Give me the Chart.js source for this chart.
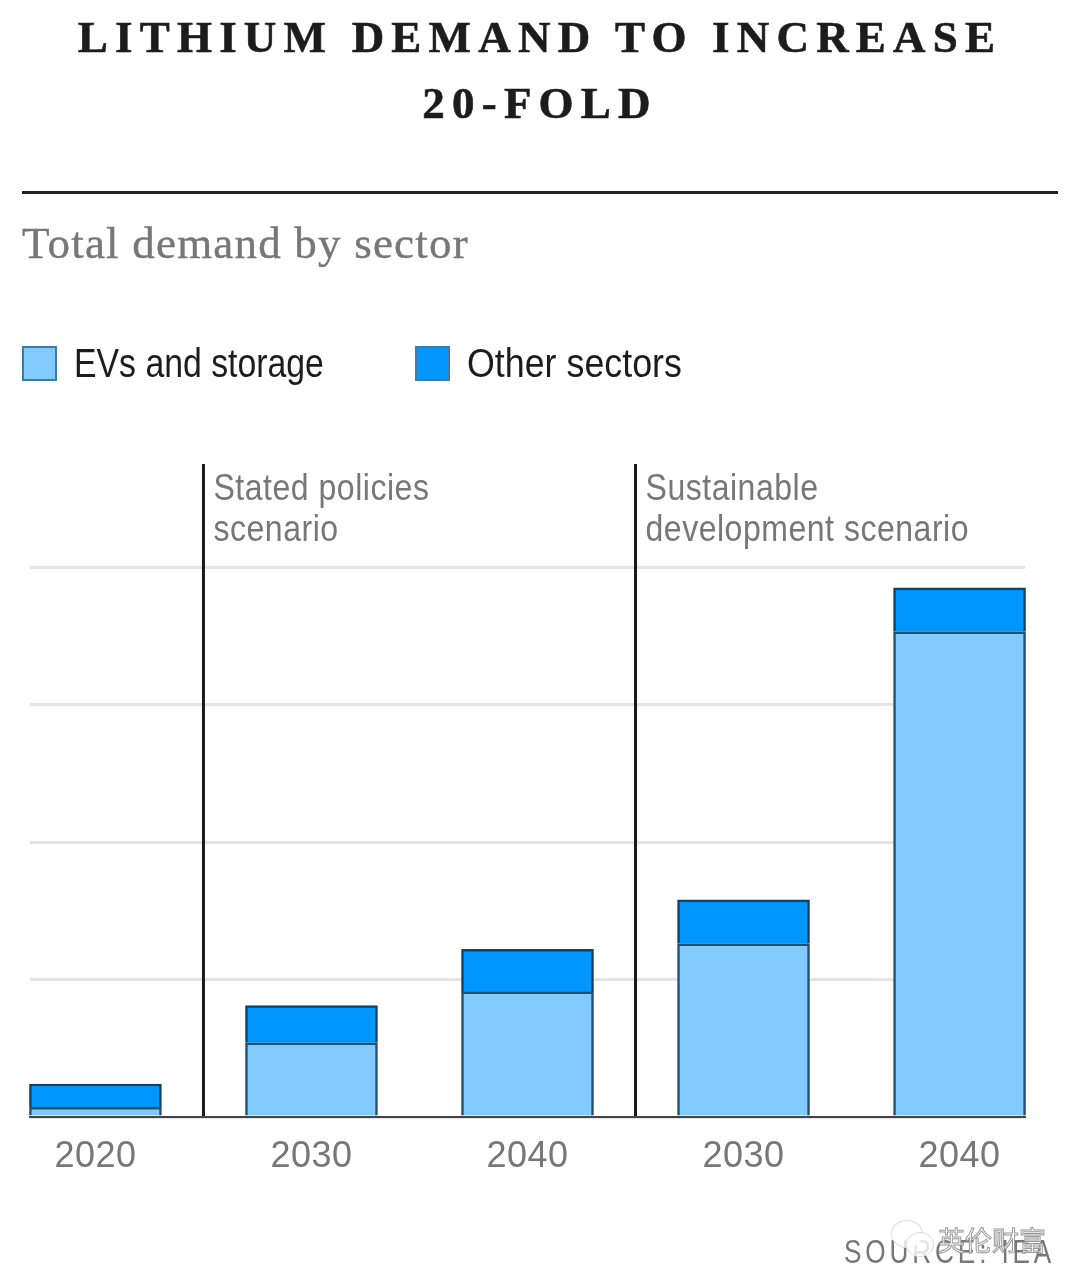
<!DOCTYPE html>
<html>
<head>
<meta charset="utf-8">
<script src="https://cdn.jsdelivr.net/npm/chart.js@4"></script>
<style>
  html, body { margin: 0; padding: 0; background: #fff; }
  #page { position: relative; width: 1080px; height: 1286px; overflow: hidden; }
  #page > * { position: absolute; }
  canvas { left: 0; top: 0; }
  .title { left: 0; width: 1080px; text-align: center; font: bold 45px "Liberation Serif", serif; letter-spacing: 7.2px; color: #1c1c1c; -webkit-text-stroke: 0.6px #1c1c1c; white-space: nowrap; }
  .rule { left: 22px; top: 191px; width: 1036px; height: 3px; background: #222; }
  .sub { left: 22px; top: 217px; font: 45px "Liberation Serif", serif; letter-spacing: 1.2px; color: #777; -webkit-text-stroke: 0.4px #777; white-space: nowrap; }
  .swatch { top: 346px; width: 31px; height: 31px; border: 2px solid #3f7ba6; }
  .legend { top: 341px; font: 40px "Liberation Sans", sans-serif; color: #1c1c1c; white-space: nowrap; transform-origin: left top; }
  .source { right: 25px; top: 1232px; font: 34px "Liberation Sans", sans-serif; letter-spacing: 5px; color: #777; white-space: nowrap; transform: scaleX(0.77); transform-origin: right top; }
  .mark { left: 938px; top: 1220px; font: 27px "Noto Sans CJK SC", sans-serif; color: rgba(255,255,255,.85); -webkit-text-stroke: 1px #999; white-space: nowrap; }
  .bubble { border-radius: 50%; background: rgba(255,255,255,.8); border: 1px solid #ddd; }
</style>
</head>
<body>
<div id="page">
  <canvas id="chart" width="1080" height="1286"></canvas>
  <div class="title" style="top:11px">LITHIUM DEMAND TO INCREASE</div>
  <div class="title" style="top:77px">20-FOLD</div>
  <div class="rule"></div>
  <div class="sub">Total demand by sector</div>
  <div class="swatch" style="left:22px;background:#80caff"></div>
  <div class="legend" style="left:74px;transform:scaleX(0.845)">EVs and storage</div>
  <div class="swatch" style="left:415px;background:#0096ff"></div>
  <div class="legend" style="left:467px;transform:scaleX(0.895)">Other sectors</div>
  <div class="source">SOURCE: IEA</div>
  <div class="bubble" style="left:891px;top:1220px;width:30px;height:26px"></div>
  <div class="bubble" style="left:906px;top:1232px;width:26px;height:23px"></div>
  <div class="mark">英伦财富</div>
</div>
<script>
// Chart data (gridline = 1 unit)
const categories = ["2020", "2030", "2040", "2030", "2040"];
const evsAndStorage = [0.07, 0.54, 0.91, 1.26, 3.53];
const otherSectors = [0.17, 0.27, 0.31, 0.32, 0.32];
const xPositions = [0, 1, 2, 3, 4];
const dividers = [0.5, 2.5];
const scenarios = [
  ["Stated policies", "scenario"],
  ["Sustainable", "development scenario"],
];
const toPoints = (values) => values.map((v, i) => ({ x: xPositions[i], y: v }));

const labelFont = '"Liberation Sans", sans-serif';

// Vertical scenario dividers and their labels
const scenarioPlugin = {
  id: "scenarios",
  afterDatasetsDraw(chart) {
    const { ctx, chartArea, scales } = chart;
    dividers.forEach((value, i) => {
      const x = scales.x.getPixelForValue(value);
      ctx.save();
      ctx.strokeStyle = "#1a1a1a";
      ctx.lineWidth = 3;
      ctx.beginPath();
      ctx.moveTo(x, chartArea.top);
      ctx.lineTo(x, chartArea.bottom);
      ctx.stroke();
      ctx.fillStyle = "#777";
      ctx.font = "37px " + labelFont;
      ctx.letterSpacing = "0.6px";
      ctx.textBaseline = "alphabetic";
      // the reference type is condensed, so squeeze it
      ctx.translate(x + 10, chartArea.top + 36);
      ctx.scale(0.865, 1);
      scenarios[i].forEach((line, n) => {
        ctx.fillText(line, 0, n * 41);
      });
      ctx.restore();
    });
  },
};

// Letter spacing for the year labels
const spacingPlugin = {
  id: "spacing",
  beforeDraw(chart) {
    chart.ctx.letterSpacing = "0.5px";
  },
};

new Chart(document.getElementById("chart"), {
  type: "bar",
  data: {
    datasets: [
      {
        label: "EVs and storage",
        data: toPoints(evsAndStorage),
        backgroundColor: "#80caff",
        borderColor: "#24506e",
        borderWidth: 2.5,
        borderSkipped: "bottom",
        barThickness: 132,
        clip: false,
      },
      {
        label: "Other sectors",
        data: toPoints(otherSectors),
        backgroundColor: "#0096ff",
        borderColor: "#17405f",
        borderWidth: 2.5,
        barThickness: 132,
        clip: false,
      },
    ],
  },
  options: {
    responsive: false,
    animation: false,
    layout: { padding: { left: 30, right: 55, top: 464 } },
    plugins: { legend: { display: false }, tooltip: { enabled: false } },
    scales: {
      x: {
        type: "linear",
        offset: false,
        stacked: true,
        min: -0.303,
        max: 4.303,
        grid: { display: false },
        border: { color: "#444", width: 2, z: 1 },
        afterFit(scale) {
          scale.height = 169;
        },
        afterBuildTicks(scale) {
          scale.ticks = xPositions.map((value) => ({ value }));
        },
        ticks: {
          autoSkip: false,
          maxRotation: 0,
          padding: 10,
          color: "#777",
          font: { family: labelFont, size: 36 },
          callback: (value) => categories[value],
        },
      },
      y: {
        stacked: true,
        min: 0,
        max: 4.75,
        grid: { color: "#e4e4e4", lineWidth: 3, drawTicks: false },
        border: { display: false },
        afterFit(scale) {
          scale.width = 0;
        },
        ticks: { display: false, stepSize: 1, includeBounds: false },
      },
    },
  },
  plugins: [spacingPlugin, scenarioPlugin],
});
</script>
</body>
</html>
